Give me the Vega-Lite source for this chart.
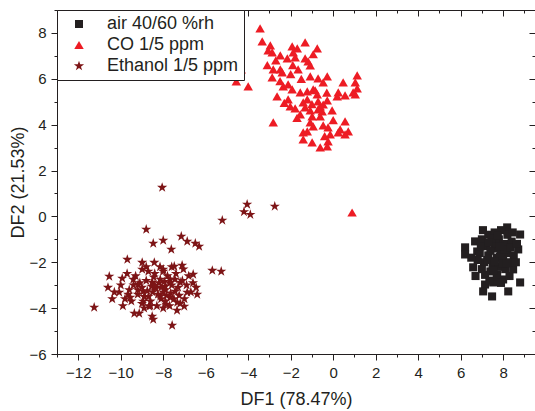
{
  "$schema": "https://vega.github.io/schema/vega-lite/v6.json",
  "width": 478,
  "height": 344,
  "autosize": {"type": "none"},
  "padding": {"left": 57, "top": 10, "right": 0, "bottom": 57},
  "config": {
    "view": {"stroke": "#231f20", "strokeWidth": 1},
    "font": "Liberation Sans",
    "axis": {
      "labelFont": "Liberation Sans", "labelFontSize": 15, "labelColor": "#231f20",
      "titleFont": "Liberation Sans", "titleFontSize": 18, "titleFontWeight": "normal", "titleColor": "#231f20",
      "domainColor": "#231f20", "tickColor": "#231f20", "grid": false
    },
    "legend": {
      "orient": "top-left", "offset": 0, "padding": 5, "rowPadding": 3,
      "strokeColor": "#231f20", "fillColor": "white", "cornerRadius": 0,
      "labelFont": "Liberation Sans", "labelFontSize": 18, "labelColor": "#231f20",
      "symbolOffset": 8, "labelOffset": 19
    }
  },
  "data": {"values": [
    {"group":"air 40/60 %rh","DF1":6.21,"DF2":-1.35},{"group":"air 40/60 %rh","DF1":6.21,"DF2":-1.66},{"group":"air 40/60 %rh","DF1":6.78,"DF2":-1.53},{"group":"air 40/60 %rh","DF1":6.68,"DF2":-1.09},{"group":"air 40/60 %rh","DF1":8.19,"DF2":-0.48},{"group":"air 40/60 %rh","DF1":8.8,"DF2":-0.79},{"group":"air 40/60 %rh","DF1":8.71,"DF2":-1.44},{"group":"air 40/60 %rh","DF1":6.59,"DF2":-2.22},{"group":"air 40/60 %rh","DF1":8.47,"DF2":-2.31},{"group":"air 40/60 %rh","DF1":8.8,"DF2":-2.88},{"group":"air 40/60 %rh","DF1":7.15,"DF2":-2.97},{"group":"air 40/60 %rh","DF1":7.53,"DF2":-2.88},{"group":"air 40/60 %rh","DF1":7.06,"DF2":-3.27},{"group":"air 40/60 %rh","DF1":7.48,"DF2":-3.49},{"group":"air 40/60 %rh","DF1":8.24,"DF2":-3.27},{"group":"air 40/60 %rh","DF1":8.0,"DF2":-2.75},{"group":"air 40/60 %rh","DF1":7.72,"DF2":-2.53},
    {"group":"air 40/60 %rh","DF1":7.0,"DF2":-1.0},{"group":"air 40/60 %rh","DF1":7.3,"DF2":-0.8},{"group":"air 40/60 %rh","DF1":7.6,"DF2":-0.7},{"group":"air 40/60 %rh","DF1":7.9,"DF2":-0.6},{"group":"air 40/60 %rh","DF1":8.2,"DF2":-0.8},{"group":"air 40/60 %rh","DF1":7.5,"DF2":-1.1},{"group":"air 40/60 %rh","DF1":7.8,"DF2":-1.0},{"group":"air 40/60 %rh","DF1":8.1,"DF2":-1.2},{"group":"air 40/60 %rh","DF1":8.4,"DF2":-1.1},{"group":"air 40/60 %rh","DF1":7.2,"DF2":-1.3},{"group":"air 40/60 %rh","DF1":7.6,"DF2":-1.4},{"group":"air 40/60 %rh","DF1":7.9,"DF2":-1.5},{"group":"air 40/60 %rh","DF1":8.2,"DF2":-1.6},{"group":"air 40/60 %rh","DF1":8.5,"DF2":-1.7},{"group":"air 40/60 %rh","DF1":6.9,"DF2":-1.6},{"group":"air 40/60 %rh","DF1":7.3,"DF2":-1.7},{"group":"air 40/60 %rh","DF1":7.7,"DF2":-1.8},{"group":"air 40/60 %rh","DF1":8.0,"DF2":-1.9},{"group":"air 40/60 %rh","DF1":8.3,"DF2":-2.0},{"group":"air 40/60 %rh","DF1":7.1,"DF2":-2.0},{"group":"air 40/60 %rh","DF1":7.5,"DF2":-2.1},{"group":"air 40/60 %rh","DF1":7.8,"DF2":-2.2},{"group":"air 40/60 %rh","DF1":8.1,"DF2":-2.3},{"group":"air 40/60 %rh","DF1":7.4,"DF2":-2.4},{"group":"air 40/60 %rh","DF1":7.7,"DF2":-2.6},{"group":"air 40/60 %rh","DF1":7.0,"DF2":-2.3},{"group":"air 40/60 %rh","DF1":6.8,"DF2":-1.9},{"group":"air 40/60 %rh","DF1":7.4,"DF2":-1.5},{"group":"air 40/60 %rh","DF1":7.65,"DF2":-1.2},{"group":"air 40/60 %rh","DF1":7.85,"DF2":-1.75},{"group":"air 40/60 %rh","DF1":8.05,"DF2":-1.45},{"group":"air 40/60 %rh","DF1":7.25,"DF2":-1.9},{"group":"air 40/60 %rh","DF1":7.55,"DF2":-2.35},{"group":"air 40/60 %rh","DF1":8.35,"DF2":-1.35},{"group":"air 40/60 %rh","DF1":6.95,"DF2":-1.3},{"group":"air 40/60 %rh","DF1":7.45,"DF2":-0.95},{"group":"air 40/60 %rh","DF1":7.95,"DF2":-2.05},{"group":"air 40/60 %rh","DF1":8.6,"DF2":-2.0},{"group":"air 40/60 %rh","DF1":7.15,"DF2":-2.55},{"group":"air 40/60 %rh","DF1":7.75,"DF2":-0.85},{"group":"air 40/60 %rh","DF1":8.45,"DF2":-0.7},{"group":"air 40/60 %rh","DF1":6.7,"DF2":-2.6},{"group":"air 40/60 %rh","DF1":7.9,"DF2":-2.9},{"group":"air 40/60 %rh","DF1":8.3,"DF2":-2.6},{"group":"air 40/60 %rh","DF1":7.35,"DF2":-2.8},{"group":"air 40/60 %rh","DF1":6.5,"DF2":-1.8},{"group":"air 40/60 %rh","DF1":8.65,"DF2":-1.2},{"group":"air 40/60 %rh","DF1":7.05,"DF2":-0.6},{"group":"air 40/60 %rh","DF1":7.6,"DF2":-1.95},{"group":"air 40/60 %rh","DF1":8.15,"DF2":-2.05},{"group":"air 40/60 %rh","DF1":7.3,"DF2":-1.15},{"group":"air 40/60 %rh","DF1":7.85,"DF2":-1.3},
    {"group":"CO 1/5 ppm","DF1":-3.44,"DF2":8.2},{"group":"CO 1/5 ppm","DF1":-3.34,"DF2":7.63},{"group":"CO 1/5 ppm","DF1":-2.96,"DF2":7.46},{"group":"CO 1/5 ppm","DF1":-3.06,"DF2":7.24},{"group":"CO 1/5 ppm","DF1":-2.87,"DF2":7.15},{"group":"CO 1/5 ppm","DF1":-1.93,"DF2":7.41},{"group":"CO 1/5 ppm","DF1":-1.69,"DF2":7.33},{"group":"CO 1/5 ppm","DF1":-1.32,"DF2":7.59},{"group":"CO 1/5 ppm","DF1":-0.75,"DF2":7.33},{"group":"CO 1/5 ppm","DF1":-2.49,"DF2":7.02},{"group":"CO 1/5 ppm","DF1":-2.16,"DF2":6.89},{"group":"CO 1/5 ppm","DF1":-1.88,"DF2":7.15},{"group":"CO 1/5 ppm","DF1":-1.79,"DF2":6.93},{"group":"CO 1/5 ppm","DF1":-1.32,"DF2":6.89},{"group":"CO 1/5 ppm","DF1":-1.18,"DF2":6.76},{"group":"CO 1/5 ppm","DF1":-0.94,"DF2":7.07},{"group":"CO 1/5 ppm","DF1":-2.82,"DF2":6.41},{"group":"CO 1/5 ppm","DF1":-2.49,"DF2":6.41},{"group":"CO 1/5 ppm","DF1":-1.65,"DF2":6.41},{"group":"CO 1/5 ppm","DF1":-1.08,"DF2":6.59},{"group":"CO 1/5 ppm","DF1":-4.33,"DF2":6.41},{"group":"CO 1/5 ppm","DF1":-4.56,"DF2":5.89},{"group":"CO 1/5 ppm","DF1":-4.0,"DF2":5.67},{"group":"CO 1/5 ppm","DF1":-2.87,"DF2":6.06},{"group":"CO 1/5 ppm","DF1":-2.4,"DF2":6.28},{"group":"CO 1/5 ppm","DF1":-1.08,"DF2":6.11},{"group":"CO 1/5 ppm","DF1":-0.71,"DF2":6.02},{"group":"CO 1/5 ppm","DF1":-0.28,"DF2":6.11},{"group":"CO 1/5 ppm","DF1":-0.47,"DF2":5.84},{"group":"CO 1/5 ppm","DF1":0.47,"DF2":5.84},{"group":"CO 1/5 ppm","DF1":1.13,"DF2":6.15},{"group":"CO 1/5 ppm","DF1":1.13,"DF2":5.58},{"group":"CO 1/5 ppm","DF1":1.04,"DF2":5.32},{"group":"CO 1/5 ppm","DF1":0.24,"DF2":5.41},{"group":"CO 1/5 ppm","DF1":0.56,"DF2":5.28},{"group":"CO 1/5 ppm","DF1":0.19,"DF2":5.23},{"group":"CO 1/5 ppm","DF1":-2.35,"DF2":5.67},{"group":"CO 1/5 ppm","DF1":-2.12,"DF2":5.76},{"group":"CO 1/5 ppm","DF1":-1.93,"DF2":5.54},{"group":"CO 1/5 ppm","DF1":-1.55,"DF2":5.41},{"group":"CO 1/5 ppm","DF1":-1.22,"DF2":5.45},{"group":"CO 1/5 ppm","DF1":-0.85,"DF2":5.5},{"group":"CO 1/5 ppm","DF1":-0.75,"DF2":5.32},{"group":"CO 1/5 ppm","DF1":-2.64,"DF2":5.23},{"group":"CO 1/5 ppm","DF1":-2.12,"DF2":5.1},{"group":"CO 1/5 ppm","DF1":-1.22,"DF2":5.1},{"group":"CO 1/5 ppm","DF1":-0.71,"DF2":5.02},{"group":"CO 1/5 ppm","DF1":-0.28,"DF2":5.06},{"group":"CO 1/5 ppm","DF1":-2.02,"DF2":4.8},{"group":"CO 1/5 ppm","DF1":-1.79,"DF2":4.71},{"group":"CO 1/5 ppm","DF1":-1.32,"DF2":4.75},{"group":"CO 1/5 ppm","DF1":-1.08,"DF2":4.62},{"group":"CO 1/5 ppm","DF1":-0.61,"DF2":4.8},{"group":"CO 1/5 ppm","DF1":-0.52,"DF2":4.58},{"group":"CO 1/5 ppm","DF1":-0.05,"DF2":4.62},{"group":"CO 1/5 ppm","DF1":-1.55,"DF2":4.45},{"group":"CO 1/5 ppm","DF1":-0.99,"DF2":4.36},{"group":"CO 1/5 ppm","DF1":-0.61,"DF2":4.36},{"group":"CO 1/5 ppm","DF1":-2.82,"DF2":4.1},{"group":"CO 1/5 ppm","DF1":-1.08,"DF2":4.1},{"group":"CO 1/5 ppm","DF1":-0.94,"DF2":3.93},{"group":"CO 1/5 ppm","DF1":-0.47,"DF2":3.97},{"group":"CO 1/5 ppm","DF1":-0.24,"DF2":3.88},{"group":"CO 1/5 ppm","DF1":0.56,"DF2":4.14},{"group":"CO 1/5 ppm","DF1":-1.41,"DF2":3.66},{"group":"CO 1/5 ppm","DF1":-1.22,"DF2":3.71},{"group":"CO 1/5 ppm","DF1":-0.14,"DF2":3.58},{"group":"CO 1/5 ppm","DF1":0.24,"DF2":3.66},{"group":"CO 1/5 ppm","DF1":0.56,"DF2":3.58},{"group":"CO 1/5 ppm","DF1":-1.41,"DF2":3.36},{"group":"CO 1/5 ppm","DF1":-0.99,"DF2":3.23},{"group":"CO 1/5 ppm","DF1":-0.24,"DF2":3.27},{"group":"CO 1/5 ppm","DF1":-0.61,"DF2":3.01},{"group":"CO 1/5 ppm","DF1":-0.28,"DF2":3.05},{"group":"CO 1/5 ppm","DF1":0.89,"DF2":0.17},{"group":"CO 1/5 ppm","DF1":0.33,"DF2":3.79},{"group":"CO 1/5 ppm","DF1":0.71,"DF2":3.71},{"group":"CO 1/5 ppm","DF1":-0.71,"DF2":4.67},{"group":"CO 1/5 ppm","DF1":-0.47,"DF2":4.88},{"group":"CO 1/5 ppm","DF1":-1.41,"DF2":4.97},{"group":"CO 1/5 ppm","DF1":-0.94,"DF2":5.54},{"group":"CO 1/5 ppm","DF1":1.04,"DF2":5.84},{"group":"CO 1/5 ppm","DF1":0.94,"DF2":5.41},{"group":"CO 1/5 ppm","DF1":-2.5,"DF2":5.9},{"group":"CO 1/5 ppm","DF1":-2.0,"DF2":6.2},{"group":"CO 1/5 ppm","DF1":-1.5,"DF2":6.0},{"group":"CO 1/5 ppm","DF1":-2.3,"DF2":4.95},{"group":"CO 1/5 ppm","DF1":-1.7,"DF2":4.3},{"group":"CO 1/5 ppm","DF1":-1.0,"DF2":4.9},{"group":"CO 1/5 ppm","DF1":-0.3,"DF2":5.4},{"group":"CO 1/5 ppm","DF1":-2.7,"DF2":6.8},{"group":"CO 1/5 ppm","DF1":-3.1,"DF2":6.6},{"group":"CO 1/5 ppm","DF1":0.0,"DF2":4.2},{"group":"CO 1/5 ppm","DF1":-1.9,"DF2":6.6},{"group":"CO 1/5 ppm","DF1":-0.4,"DF2":3.5},
    {"group":"Ethanol 1/5 ppm","DF1":-8.05,"DF2":1.26},{"group":"Ethanol 1/5 ppm","DF1":-5.22,"DF2":-0.17},{"group":"Ethanol 1/5 ppm","DF1":-8.8,"DF2":-0.57},{"group":"Ethanol 1/5 ppm","DF1":-8.0,"DF2":-1.05},{"group":"Ethanol 1/5 ppm","DF1":-8.47,"DF2":-1.18},{"group":"Ethanol 1/5 ppm","DF1":-7.15,"DF2":-0.87},{"group":"Ethanol 1/5 ppm","DF1":-6.87,"DF2":-1.09},{"group":"Ethanol 1/5 ppm","DF1":-6.49,"DF2":-1.18},{"group":"Ethanol 1/5 ppm","DF1":-6.31,"DF2":-1.31},{"group":"Ethanol 1/5 ppm","DF1":-7.62,"DF2":-1.44},{"group":"Ethanol 1/5 ppm","DF1":-9.69,"DF2":-1.88},{"group":"Ethanol 1/5 ppm","DF1":-8.99,"DF2":-2.01},{"group":"Ethanol 1/5 ppm","DF1":-8.42,"DF2":-2.01},{"group":"Ethanol 1/5 ppm","DF1":-5.69,"DF2":-2.36},{"group":"Ethanol 1/5 ppm","DF1":-5.27,"DF2":-2.4},{"group":"Ethanol 1/5 ppm","DF1":-10.54,"DF2":-2.62},{"group":"Ethanol 1/5 ppm","DF1":-9.93,"DF2":-2.7},{"group":"Ethanol 1/5 ppm","DF1":-11.25,"DF2":-3.97},{"group":"Ethanol 1/5 ppm","DF1":-9.36,"DF2":-4.23},{"group":"Ethanol 1/5 ppm","DF1":-9.13,"DF2":-4.23},{"group":"Ethanol 1/5 ppm","DF1":-8.52,"DF2":-4.36},{"group":"Ethanol 1/5 ppm","DF1":-8.47,"DF2":-4.49},{"group":"Ethanol 1/5 ppm","DF1":-7.58,"DF2":-4.75},{"group":"Ethanol 1/5 ppm","DF1":-7.86,"DF2":-3.84},{"group":"Ethanol 1/5 ppm","DF1":-6.59,"DF2":-2.53},{"group":"Ethanol 1/5 ppm","DF1":-6.45,"DF2":-3.1},{"group":"Ethanol 1/5 ppm","DF1":-7.11,"DF2":-2.14},{"group":"Ethanol 1/5 ppm","DF1":-7.48,"DF2":-2.18},{"group":"Ethanol 1/5 ppm","DF1":-8.0,"DF2":-2.31},{"group":"Ethanol 1/5 ppm","DF1":-8.99,"DF2":-2.31},{"group":"Ethanol 1/5 ppm","DF1":-9.41,"DF2":-2.75},{"group":"Ethanol 1/5 ppm","DF1":-10.07,"DF2":-3.31},{"group":"Ethanol 1/5 ppm","DF1":-9.65,"DF2":-3.4},{"group":"Ethanol 1/5 ppm","DF1":-9.55,"DF2":-3.53},{"group":"Ethanol 1/5 ppm","DF1":-8.94,"DF2":-3.71},{"group":"Ethanol 1/5 ppm","DF1":-8.66,"DF2":-3.92},{"group":"Ethanol 1/5 ppm","DF1":-7.34,"DF2":-3.75},{"group":"Ethanol 1/5 ppm","DF1":-7.01,"DF2":-3.92},{"group":"Ethanol 1/5 ppm","DF1":-6.87,"DF2":-3.31},{"group":"Ethanol 1/5 ppm","DF1":-9.18,"DF2":-2.97},{"group":"Ethanol 1/5 ppm","DF1":-8.52,"DF2":-2.88},{"group":"Ethanol 1/5 ppm","DF1":-8.14,"DF2":-2.75},{"group":"Ethanol 1/5 ppm","DF1":-7.67,"DF2":-2.75},{"group":"Ethanol 1/5 ppm","DF1":-7.2,"DF2":-2.88},{"group":"Ethanol 1/5 ppm","DF1":-8.38,"DF2":-3.1},{"group":"Ethanol 1/5 ppm","DF1":-7.91,"DF2":-3.05},{"group":"Ethanol 1/5 ppm","DF1":-7.44,"DF2":-3.27},{"group":"Ethanol 1/5 ppm","DF1":-8.94,"DF2":-3.27},{"group":"Ethanol 1/5 ppm","DF1":-8.14,"DF2":-3.49},{"group":"Ethanol 1/5 ppm","DF1":-7.67,"DF2":-3.53},
    {"group":"Ethanol 1/5 ppm","DF1":-4.2,"DF2":0.2},{"group":"Ethanol 1/5 ppm","DF1":-4.05,"DF2":0.52},{"group":"Ethanol 1/5 ppm","DF1":-3.9,"DF2":0.08},{"group":"Ethanol 1/5 ppm","DF1":-2.75,"DF2":0.44},
    {"group":"Ethanol 1/5 ppm","DF1":-8.2,"DF2":-2.9},{"group":"Ethanol 1/5 ppm","DF1":-7.9,"DF2":-3.2},{"group":"Ethanol 1/5 ppm","DF1":-8.5,"DF2":-3.3},{"group":"Ethanol 1/5 ppm","DF1":-7.6,"DF2":-3.0},{"group":"Ethanol 1/5 ppm","DF1":-8.8,"DF2":-2.8},{"group":"Ethanol 1/5 ppm","DF1":-9.0,"DF2":-3.1},{"group":"Ethanol 1/5 ppm","DF1":-7.3,"DF2":-3.1},{"group":"Ethanol 1/5 ppm","DF1":-8.1,"DF2":-3.6},{"group":"Ethanol 1/5 ppm","DF1":-7.8,"DF2":-2.6},{"group":"Ethanol 1/5 ppm","DF1":-8.4,"DF2":-2.5},{"group":"Ethanol 1/5 ppm","DF1":-9.2,"DF2":-3.4},{"group":"Ethanol 1/5 ppm","DF1":-7.5,"DF2":-3.6},{"group":"Ethanol 1/5 ppm","DF1":-8.6,"DF2":-3.7},{"group":"Ethanol 1/5 ppm","DF1":-7.1,"DF2":-2.8},{"group":"Ethanol 1/5 ppm","DF1":-8.0,"DF2":-2.4},{"group":"Ethanol 1/5 ppm","DF1":-9.4,"DF2":-3.0},{"group":"Ethanol 1/5 ppm","DF1":-8.3,"DF2":-3.9},{"group":"Ethanol 1/5 ppm","DF1":-7.7,"DF2":-3.9},{"group":"Ethanol 1/5 ppm","DF1":-9.0,"DF2":-3.8},{"group":"Ethanol 1/5 ppm","DF1":-6.9,"DF2":-3.0},{"group":"Ethanol 1/5 ppm","DF1":-8.7,"DF2":-2.4},{"group":"Ethanol 1/5 ppm","DF1":-7.4,"DF2":-2.5},{"group":"Ethanol 1/5 ppm","DF1":-8.9,"DF2":-3.5},{"group":"Ethanol 1/5 ppm","DF1":-8.1,"DF2":-3.1},{"group":"Ethanol 1/5 ppm","DF1":-7.95,"DF2":-2.85},{"group":"Ethanol 1/5 ppm","DF1":-8.35,"DF2":-3.15},{"group":"Ethanol 1/5 ppm","DF1":-7.65,"DF2":-3.35},{"group":"Ethanol 1/5 ppm","DF1":-8.55,"DF2":-3.05},{"group":"Ethanol 1/5 ppm","DF1":-7.25,"DF2":-3.45},{"group":"Ethanol 1/5 ppm","DF1":-9.6,"DF2":-3.2},{"group":"Ethanol 1/5 ppm","DF1":-9.8,"DF2":-3.6},{"group":"Ethanol 1/5 ppm","DF1":-10.0,"DF2":-3.0},{"group":"Ethanol 1/5 ppm","DF1":-9.3,"DF2":-2.6},{"group":"Ethanol 1/5 ppm","DF1":-6.7,"DF2":-3.3},{"group":"Ethanol 1/5 ppm","DF1":-6.8,"DF2":-2.6},{"group":"Ethanol 1/5 ppm","DF1":-7.0,"DF2":-3.6},{"group":"Ethanol 1/5 ppm","DF1":-8.0,"DF2":-4.0},{"group":"Ethanol 1/5 ppm","DF1":-8.45,"DF2":-2.65},{"group":"Ethanol 1/5 ppm","DF1":-7.85,"DF2":-3.45},{"group":"Ethanol 1/5 ppm","DF1":-8.75,"DF2":-3.25},{"group":"Ethanol 1/5 ppm","DF1":-7.45,"DF2":-2.75},{"group":"Ethanol 1/5 ppm","DF1":-8.25,"DF2":-3.4},{"group":"Ethanol 1/5 ppm","DF1":-9.1,"DF2":-2.9},{"group":"Ethanol 1/5 ppm","DF1":-7.2,"DF2":-3.8},{"group":"Ethanol 1/5 ppm","DF1":-8.6,"DF2":-3.9},{"group":"Ethanol 1/5 ppm","DF1":-9.5,"DF2":-3.7},{"group":"Ethanol 1/5 ppm","DF1":-10.3,"DF2":-3.3},{"group":"Ethanol 1/5 ppm","DF1":-9.7,"DF2":-2.5},{"group":"Ethanol 1/5 ppm","DF1":-8.15,"DF2":-2.2},{"group":"Ethanol 1/5 ppm","DF1":-7.6,"DF2":-2.2},{"group":"Ethanol 1/5 ppm","DF1":-6.6,"DF2":-2.9},{"group":"Ethanol 1/5 ppm","DF1":-8.9,"DF2":-4.0},{"group":"Ethanol 1/5 ppm","DF1":-7.35,"DF2":-4.1},{"group":"Ethanol 1/5 ppm","DF1":-8.0,"DF2":-3.3},{"group":"Ethanol 1/5 ppm","DF1":-8.4,"DF2":-3.0},{"group":"Ethanol 1/5 ppm","DF1":-7.7,"DF2":-2.9},{"group":"Ethanol 1/5 ppm","DF1":-9.2,"DF2":-3.2},{"group":"Ethanol 1/5 ppm","DF1":-8.7,"DF2":-3.5},{"group":"Ethanol 1/5 ppm","DF1":-7.9,"DF2":-3.7},{"group":"Ethanol 1/5 ppm","DF1":-10.6,"DF2":-3.1},{"group":"Ethanol 1/5 ppm","DF1":-10.4,"DF2":-3.6},{"group":"Ethanol 1/5 ppm","DF1":-9.9,"DF2":-3.9},{"group":"Ethanol 1/5 ppm","DF1":-6.4,"DF2":-3.4},{"group":"Ethanol 1/5 ppm","DF1":-7.05,"DF2":-2.3},{"group":"Ethanol 1/5 ppm","DF1":-8.8,"DF2":-2.2}
  ]},
  "layer": [
    {
      "mark": {"type": "point", "filled": true, "opacity": 1},
      "encoding": {
        "x": {"field": "DF1", "type": "quantitative", "title": "DF1 (78.47%)",
              "scale": {"domain": [-13, 9.5], "nice": false, "zero": false},
              "axis": {"orient": "bottom", "values": [-13,-12,-11,-10,-9,-8,-7,-6,-5,-4,-3,-2,-1,0,1,2,3,4,5,6,7,8,9],
                       "labelExpr": "datum.value % 2 === 0 ? datum.label : ''",
                       "tickSize": {"condition": {"test": "datum.value % 2 === 0", "value": 6}, "value": 3},
                       "labelPadding": 5, "titlePadding": 10, "labelFlush": false, "labelOverlap": false}},
        "y": {"field": "DF2", "type": "quantitative", "title": "DF2 (21.53%)",
              "scale": {"domain": [-6, 9], "nice": false, "zero": false},
              "axis": {"orient": "left", "values": [-6,-5,-4,-3,-2,-1,0,1,2,3,4,5,6,7,8,9],
                       "labelExpr": "datum.value % 2 === 0 ? datum.label : ''",
                       "tickSize": {"condition": {"test": "datum.value % 2 === 0", "value": 6}, "value": 3},
                       "labelPadding": 5, "titlePadding": 1, "labelFlush": false, "labelOverlap": false}},
        "shape": {"field": "group", "type": "nominal",
                  "scale": {"domain": ["air 40/60 %rh", "CO 1/5 ppm", "Ethanol 1/5 ppm"], "range": ["square", "triangle-up", "M0,-1L0.2245,-0.309L0.9511,-0.309L0.3633,0.118L0.5878,0.809L0,0.382L-0.5878,0.809L-0.3633,0.118L-0.9511,-0.309L-0.2245,-0.309Z"]},
                  "legend": {"title": null, "labelFontSize": 18, "symbolOffset": 8, "labelOffset": 19}},
        "color": {"field": "group", "type": "nominal",
                  "scale": {"domain": ["air 40/60 %rh", "CO 1/5 ppm", "Ethanol 1/5 ppm"], "range": ["#231f20", "#ed1c24", "#7d1416"]},
                  "legend": {"title": null, "labelFontSize": 18, "symbolOffset": 8, "labelOffset": 19}},
        "size": {"field": "group", "type": "nominal",
                 "scale": {"domain": ["air 40/60 %rh", "CO 1/5 ppm", "Ethanol 1/5 ppm"], "range": [65, 115, 190]},
                 "legend": {"title": null, "labelFontSize": 18, "symbolOffset": 8, "labelOffset": 19}}
      }
    },
    {
      "mark": {"type": "point", "opacity": 0},
      "encoding": {
        "x": {"field": "DF1", "type": "quantitative",
              "axis": {"orient": "top", "title": null, "labels": false, "domain": false,
                       "values": [-13,-12,-11,-10,-9,-8,-7,-6,-5,-4,-3,-2,-1,0,1,2,3,4,5,6,7,8,9],
                       "tickSize": {"condition": {"test": "datum.value % 2 === 0", "value": -6}, "value": -3}}},
        "y": {"field": "DF2", "type": "quantitative",
              "axis": {"orient": "right", "title": null, "labels": false, "domain": false,
                       "values": [-6,-5,-4,-3,-2,-1,0,1,2,3,4,5,6,7,8,9],
                       "tickSize": {"condition": {"test": "datum.value % 2 === 0", "value": -6}, "value": -3}}}
      }
    }
  ],
  "resolve": {"axis": {"x": "independent", "y": "independent"}}
}
